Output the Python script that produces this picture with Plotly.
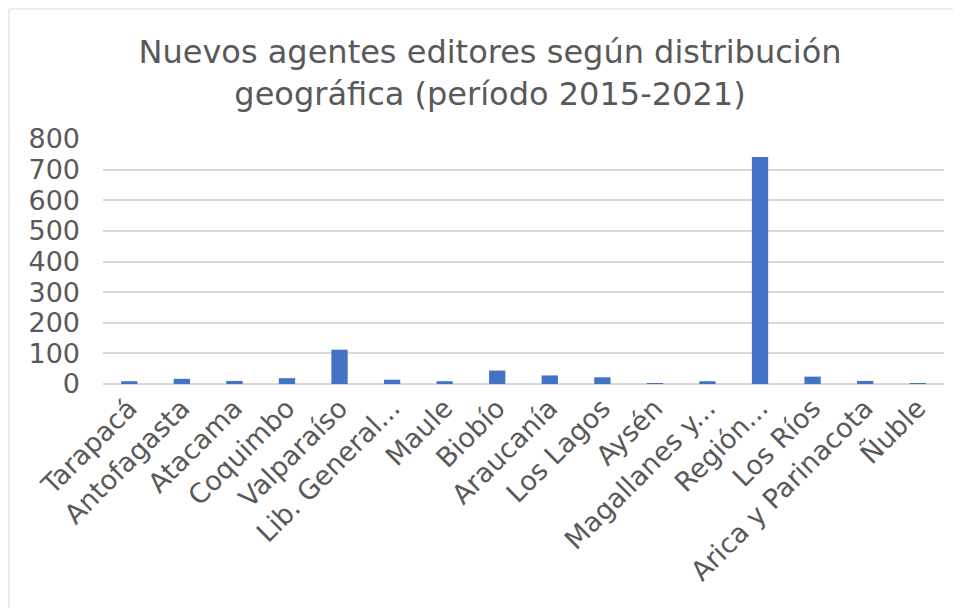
import plotly.graph_objects as go

regiones = ['Tarapacá', 'Antofagasta', 'Atacama', 'Coquimbo', 'Valparaíso',
            'Lib. General...', 'Maule', 'Biobío', 'Araucanía', 'Los Lagos',
            'Aysén', 'Magallanes y...', 'Región...', 'Los Ríos',
            'Arica y Parinacota', 'Ñuble']
agentes = [9, 17, 10, 19, 112, 14, 9, 44, 28, 22, 3, 9, 741, 24, 10, 2]
y_ticks = [0, 100, 200, 300, 400, 500, 600, 700, 800]

fig = go.Figure()

fig.add_trace(go.Bar(
    x=regiones,
    y=agentes,
    marker=dict(color='#4472C4', line=dict(width=0)),
    hoverinfo='x+y',
    showlegend=False
))

# page has an 8px body margin, so figure px = page px - 8
W, H = 953, 600
L, R, T, B = 95, 936, 131, 376
pw, ph = R - L, B - T

fig.update_layout(
    title=dict(
        text='Nuevos agentes editores según distribución<br>geográfica (período 2015-2021)',
        x=(482 - L) / pw, xref='paper', xanchor='center',
        y=1 - 55 / H, yanchor='top',
        font=dict(family='DejaVu Sans', size=32, color='#595959')
    ),
    font=dict(family='DejaVu Sans', color='#595959'),
    bargap=0.69,
    xaxis=dict(
        tickangle=-45,
        tickfont=dict(size=27, color='#595959'),
        showgrid=False,
        showline=False,
        ticks='',
        ticklabelstandoff=2
    ),
    yaxis=dict(
        range=[0, 800],
        tickvals=y_ticks,
        tickfont=dict(size=27, color='#595959'),
        gridcolor='#D9D9D9',
        gridwidth=1.5,
        zeroline=True,
        zerolinecolor='#D9D9D9',
        zerolinewidth=1.5,
        showline=False,
        ticks='',
        ticklabelstandoff=22
    ),
    shapes=[dict(
        type='rect', xref='paper', yref='paper',
        x0=(1 - L) / pw, x1=(947 - L) / pw,
        y0=(B - 640) / ph, y1=(B - 1) / ph,
        line=dict(color='#D9D9D9', width=1),
        layer='below'
    )],
    margin=dict(l=L, r=W - R, t=T, b=H - B, autoexpand=False),
    paper_bgcolor='white',
    plot_bgcolor='white',
    width=W,
    height=H
)

fig.write_html('out.html')
